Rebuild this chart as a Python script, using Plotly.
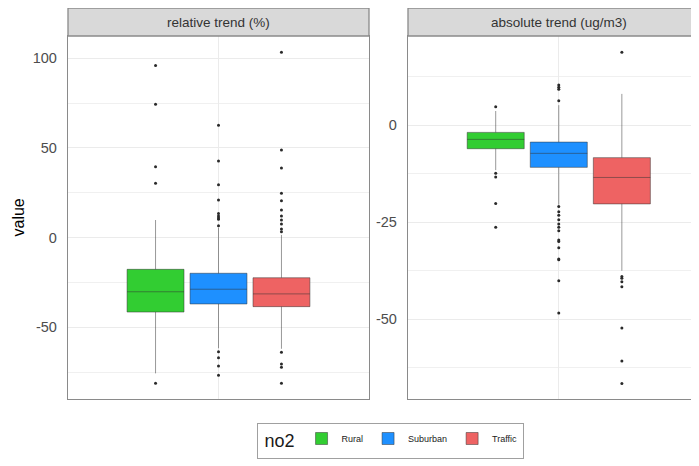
import plotly.graph_objects as go

# ---------------- data ----------------
groups = ["Rural", "Suburban", "Traffic"]
colors = ["#32CD32", "#1E90FF", "#EE6363"]
panel_titles = ["relative trend (%)", "absolute trend (ug/m3)"]
category = "no2"

rel_q1 = [-41.5, -37.0, -38.5]
rel_median = [-30.2, -28.8, -31.4]
rel_q3 = [-17.7, -19.9, -22.4]
rel_lower = [-75.7, -61.7, -62.0]
rel_upper = [9.8, 5.5, 1.5]
rel_outliers = [
    [95.9, 74.3, 39.5, 30.3, -81.2],
    [62.7, 42.7, 29.5, 21.0, 13.5, 12.0, 11.0, 10.2, 6.6,
     -63.6, -67.0, -71.6, -76.8],
    [103.3, 48.8, 38.8, 24.7, 20.6, 15.4, 12.0, 9.8, 7.6, 4.8, 3.3,
     -64.0, -70.5, -72.3, -81.2],
]

abs_q1 = [-6.1, -10.9, -20.3]
abs_median = [-3.7, -7.3, -13.5]
abs_q3 = [-1.9, -4.4, -8.4]
abs_lower = [-11.6, -20.5, -37.5]
abs_upper = [3.6, 5.1, 8.0]
abs_outliers = [
    [4.7, -12.4, -13.4, -20.2, -26.3],
    [6.25, 9.2, 9.7, 10.3, -21.0, -22.3, -23.2, -24.4, -25.5, -26.3, -27.2,
     -29.6, -30.0, -31.6, -34.5, -34.7, -40.1, -48.4],
    [18.7, -39.0, -39.4, -40.3, -41.6, -52.2, -60.7, -66.5],
]

rel_ticks = [-50, 0, 50, 100]
rel_ticklabels = ["-50", "0", "50", "100"]
abs_ticks = [-50, -25, 0]
abs_ticklabels = ["-50", "-25", "0"]

# ---------------- figure ----------------
fig = go.Figure()

panels = [
    ("x", "y", rel_q1, rel_median, rel_q3, rel_lower, rel_upper, rel_outliers),
    ("x2", "y2", abs_q1, abs_median, abs_q3, abs_lower, abs_upper, abs_outliers),
]

box_line = "rgba(51,51,51,0.5)"
for pi, (xa, ya, q1, med, q3, lo, up, outs) in enumerate(panels):
    for gi, g in enumerate(groups):
        fig.add_trace(go.Box(
            x=[category], q1=[q1[gi]], median=[med[gi]], q3=[q3[gi]],
            lowerfence=[lo[gi]], upperfence=[up[gi]],
            name=g, legendgroup=g, showlegend=(pi == 0),
            offsetgroup=g, alignmentgroup="a",
            fillcolor=colors[gi], line=dict(color=box_line, width=1),
            whiskerwidth=0, boxpoints=False,
            xaxis=xa, yaxis=ya, hoverinfo="skip",
        ))
        fig.add_trace(go.Box(
            x=[category] * len(outs[gi]), y=outs[gi],
            name=g, legendgroup=g, showlegend=False,
            offsetgroup=g, alignmentgroup="a",
            fillcolor="rgba(0,0,0,0)",
            line=dict(color="rgba(0,0,0,0)", width=0),
            whiskerwidth=0, boxpoints="all", jitter=0, pointpos=0,
            marker=dict(color="#2A2A2A", size=3),
            xaxis=xa, yaxis=ya, hoverinfo="skip",
        ))

border = "#8A8A8A"
grid = "#EBEBEB"
common_x = dict(type="category", showgrid=True, gridcolor=grid, gridwidth=1,
                showticklabels=False, ticks="", showline=True, mirror=True,
                linecolor=border, linewidth=1.3, zeroline=False)
common_y = dict(showgrid=True, gridcolor=grid, gridwidth=1, ticks="",
                showline=True, linecolor=border, linewidth=1.3, zeroline=False,
                tickfont=dict(size=14.5, color="#4D4D4D"), ticklabelstandoff=7)

# page body adds an 8px offset; lay out in page pixels minus that offset
off = 8
W, H = 699 - off, 466 - off
ml, mt = 68 - off, 36 - off
mr = 0
mb = H - (399 - off)
pw = W - ml - mr
ph = H - mt - mb

def px_x(x):
    return (x - 68) / pw

def px_y(y):
    return (399 - y) / ph

fig.update_layout(
    width=W, height=H,
    margin=dict(l=ml, r=mr, t=mt, b=mb, pad=0),
    paper_bgcolor="white", plot_bgcolor="white",
    font=dict(family="Liberation Sans, Arial, sans-serif", color="#1A1A1A"),
    boxmode="group", boxgap=0.247, boxgroupgap=0.096,
    xaxis=dict(domain=[0, px_x(369)], anchor="y", range=[-0.6, 0.6], **common_x),
    yaxis=dict(anchor="x", range=[-90.0, 112.4], tickvals=rel_ticks,
               ticktext=rel_ticklabels, mirror=True,
               minor=dict(tickvals=[-75, -25, 25, 75], showgrid=True,
                          gridcolor="#F0F0F0", gridwidth=0.8),
               **common_y),
    xaxis2=dict(domain=[px_x(408), 1], anchor="y2", range=[-0.6, 0.558],
                **common_x),
    yaxis2=dict(anchor="x2", range=[-70.5, 22.9], tickvals=abs_ticks,
                ticktext=abs_ticklabels, mirror=False,
                minor=dict(tickvals=[-62.5, -37.5, -12.5, 12.5], showgrid=True,
                           gridcolor="#F0F0F0", gridwidth=0.8),
                **common_y),
    legend=dict(orientation="h", x=px_x(390), xanchor="center",
                y=px_y(423), yanchor="top",
                bordercolor="#A0A0A0", borderwidth=1, bgcolor="white",
                title=dict(text=" no2", font=dict(size=18, color="#1A1A1A")),
                font=dict(size=9, color="#1A1A1A"), itemwidth=30,
                valign="middle"),
    showlegend=True,
)

strip_h = 28 / ph
shapes = []
annotations = []
for pi, (xa, ya) in enumerate([("x", "y"), ("x2", "y2")]):
    shapes.append(dict(type="rect", xref=f"{xa} domain", yref=f"{ya} domain",
                       x0=0, x1=1 if pi == 0 else 1.05, y0=1, y1=1 + strip_h,
                       fillcolor="#D9D9D9", line=dict(color=border, width=1.3),
                       layer="above"))
    annotations.append(dict(text=panel_titles[pi], xref=xa, yref=f"{ya} domain",
                            x=0, y=1 + strip_h / 2, showarrow=False,
                            xanchor="center", yanchor="middle",
                            font=dict(size=13.5, color="#333333")))

annotations.append(dict(text="value", xref="paper", yref="paper",
                        x=px_x(18), y=0.5, textangle=-90, showarrow=False,
                        xanchor="center", yanchor="middle",
                        font=dict(size=16, color="#000000")))

fig.update_layout(shapes=shapes, annotations=annotations)

fig.write_html("out.html")
